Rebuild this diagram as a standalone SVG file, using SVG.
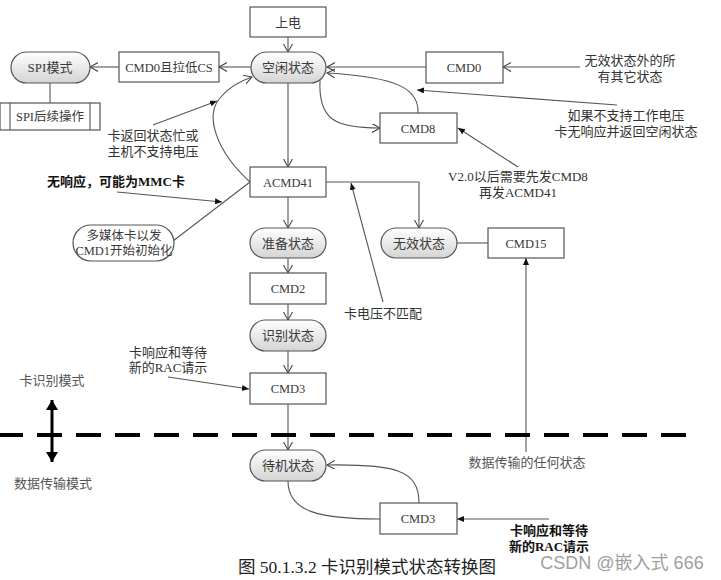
<svg xmlns="http://www.w3.org/2000/svg" width="721" height="580" viewBox="0 0 721 580">
<style>
.box{fill:#fff;stroke:#555;stroke-width:1.2}
.pill{fill:url(#pg);stroke:#555;stroke-width:1.2}
.wpill{fill:#fff;stroke:#555;stroke-width:1.2}
.lbl{font-family:"Liberation Serif","Noto Sans CJK SC",serif;font-size:13px;fill:#3a3a3a;text-anchor:middle}
.cmd{font-family:"Liberation Serif","Noto Sans CJK SC",serif;font-size:12.5px;fill:#3a3a3a;text-anchor:middle}
.ann{font-family:"Liberation Serif","Noto Sans CJK SC",serif;font-size:13px;fill:#333;text-anchor:middle}
.bold{font-weight:bold;fill:#111}
.ln{fill:none;stroke:#555;stroke-width:1.1}
.open{marker-end:url(#mo)}
.fill{marker-end:url(#mf)}
</style>
<defs>
<linearGradient id="pg" x1="0" y1="0" x2="0" y2="1">
<stop offset="0" stop-color="#ffffff"/>
<stop offset="1" stop-color="#d4d4d4"/>
</linearGradient>
<marker id="mo" markerUnits="userSpaceOnUse" markerWidth="10" markerHeight="10" refX="8" refY="4.5" orient="auto" viewBox="0 0 10 10">
<path d="M0,0 L8,4.5 L0,9" fill="none" stroke="#444" stroke-width="1.1"/>
</marker>
<marker id="mf" markerUnits="userSpaceOnUse" markerWidth="8" markerHeight="8" refX="7" refY="3" orient="auto" viewBox="0 0 8 8">
<path d="M0,0 L7,3 L0,6 z" fill="#111"/>
</marker>
<marker id="mb" markerUnits="userSpaceOnUse" markerWidth="14" markerHeight="14" refX="10" refY="6" orient="auto-start-reverse" viewBox="0 0 14 14">
<path d="M0,0 L10,6 L0,12 z" fill="#000"/>
</marker>
</defs>

<g id="connectors">
<path class="ln open" d="M288,37 L288,52"/>
<path class="ln open" d="M251,67 L219,67"/>
<path class="ln open" d="M119,67 L90,67"/>
<path class="ln" d="M50,83 L50,103"/>
<path class="ln open" d="M426,67 L327,67"/>
<path class="ln open" d="M580,67 L503,67"/>
<path class="ln open" d="M320,80 C318,120 335,128 380,128"/>
<path class="ln open" d="M418,113 C419,90 400,77 327,73"/>
<path class="ln fill" d="M617,105 L417,90"/>
<path class="ln fill" d="M518,167 L458,128"/>
<path class="ln open" d="M288,83 L288,167"/>
<path class="ln open" d="M250,182 C215,150 205,115 220,98 C228,88 240,81 252,77"/>
<path class="ln fill" d="M153,125 L217,101"/>
<path class="ln open" d="M326,182 L419,182 L419,228"/>
<path class="ln fill" d="M383,302 L351,183"/>
<path class="ln" d="M457,243 L488,243"/>
<path class="ln fill" d="M526,452 L526,258"/>
<path class="ln" d="M250,182 L173,241"/>
<path class="ln fill" d="M117,192 L222,202"/>
<path class="ln open" d="M288,197 L288,228"/>
<path class="ln open" d="M288,258 L288,273"/>
<path class="ln open" d="M288,304 L288,320"/>
<path class="ln open" d="M288,351 L288,373"/>
<path class="ln fill" d="M168,377 L249,389"/>
<path class="ln open" d="M288,404 L288,450"/>
<path class="ln open" d="M419,503 C419,470 395,464 327,465"/>
<path class="ln" d="M288,481 C288,512 320,519 380,519"/>
<path class="ln fill" d="M549,519 L457,519"/>
<path d="M-2,435 L687,435" fill="none" stroke="#000" stroke-width="4" stroke-dasharray="25 14"/>
<path d="M52,400 L52,462" fill="none" stroke="#000" stroke-width="3" marker-start="url(#mb)" marker-end="url(#mb)"/>
</g>

<g id="n-power"><rect class="box" x="250" y="7" width="76" height="30"/><text class="lbl" x="288" y="27">上电</text></g>
<g id="n-idle"><rect class="pill" x="251" y="52" width="75" height="31" rx="15.5"/><text class="lbl" x="288" y="72">空闲状态</text></g>
<g id="n-cmd0cs"><rect class="box" x="119" y="52" width="100" height="30"/><text class="cmd" x="169" y="72">CMD0且拉低CS</text></g>
<g id="n-spi"><rect class="pill" x="11" y="52" width="79" height="31" rx="15.5"/><text class="lbl" x="50" y="72">SPI模式</text></g>
<g id="n-spiop"><rect class="box" x="0" y="103" width="100" height="27"/><path class="ln" d="M10,103 L10,130 M90,103 L90,130"/><text class="cmd" x="50" y="121">SPI后续操作</text></g>
<g id="n-cmd0"><rect class="box" x="426" y="52" width="77" height="31"/><text class="cmd" x="464" y="72">CMD0</text></g>
<g id="n-cmd8"><rect class="box" x="380" y="113" width="77" height="30"/><text class="cmd" x="418" y="133">CMD8</text></g>
<g id="n-acmd41"><rect class="box" x="250" y="167" width="76" height="30"/><text class="cmd" x="288" y="187">ACMD41</text></g>
<g id="n-mmc"><rect class="wpill" x="73" y="225" width="101" height="36" rx="18"/><text class="lbl" x="124" y="240" style="font-size:12.5px">多媒体卡以发</text><text class="lbl" x="124" y="255" style="font-size:12.5px">CMD1开始初始化</text></g>
<g id="n-ready"><rect class="pill" x="250" y="228" width="76" height="30" rx="15"/><text class="lbl" x="288" y="248">准备状态</text></g>
<g id="n-inactive"><rect class="pill" x="381" y="228" width="76" height="30" rx="15"/><text class="lbl" x="419" y="248">无效状态</text></g>
<g id="n-cmd15"><rect class="box" x="488" y="228" width="76" height="30"/><text class="cmd" x="526" y="248">CMD15</text></g>
<g id="n-cmd2"><rect class="box" x="250" y="273" width="76" height="31"/><text class="cmd" x="288" y="293">CMD2</text></g>
<g id="n-ident"><rect class="pill" x="250" y="320" width="76" height="31" rx="15.5"/><text class="lbl" x="288" y="340">识别状态</text></g>
<g id="n-cmd3"><rect class="box" x="250" y="373" width="76" height="31"/><text class="cmd" x="288" y="393">CMD3</text></g>
<g id="n-standby"><rect class="pill" x="250" y="450" width="76" height="31" rx="15.5"/><text class="lbl" x="288" y="470">待机状态</text></g>
<g id="n-cmd3b"><rect class="box" x="380" y="503" width="77" height="31"/><text class="cmd" x="418" y="523">CMD3</text></g>

<g id="labels">
<text class="ann" x="630" y="65">无效状态外的所</text>
<text class="ann" x="630" y="81">有其它状态</text>
<text class="ann" x="626" y="120">如果不支持工作电压</text>
<text class="ann" x="626" y="136">卡无响应并返回空闲状态</text>
<text class="ann" x="153" y="140">卡返回状态忙或</text>
<text class="ann" x="153" y="156">主机不支持电压</text>
<text class="ann" x="518" y="181">V2.0以后需要先发CMD8</text>
<text class="ann" x="518" y="197">再发ACMD41</text>
<text class="ann bold" x="116" y="186">无响应，可能为MMC卡</text>
<text class="ann" x="383" y="318">卡电压不匹配</text>
<text class="ann" x="168" y="357">卡响应和等待</text>
<text class="ann" x="168" y="372">新的RAC请示</text>
<text class="ann" x="52" y="385" style="fill:#555">卡识别模式</text>
<text class="ann" x="53" y="488" style="fill:#555">数据传输模式</text>
<text class="ann" x="527" y="467" style="fill:#555">数据传输的任何状态</text>
<text class="ann bold" x="549" y="535">卡响应和等待</text>
<text class="ann bold" x="549" y="551">新的RAC请示</text>
<text x="367" y="573" style="font-family:'Liberation Serif','Noto Sans CJK SC',serif;font-size:17.5px;fill:#222;text-anchor:middle">图 50.1.3.2 卡识别模式状态转换图</text>
<text x="622" y="569" style="font-family:'Liberation Sans','Noto Sans CJK SC',sans-serif;font-size:18px;fill:#a0a0a0;text-anchor:middle">CSDN @嵌入式 666</text>
</g>
</svg>
